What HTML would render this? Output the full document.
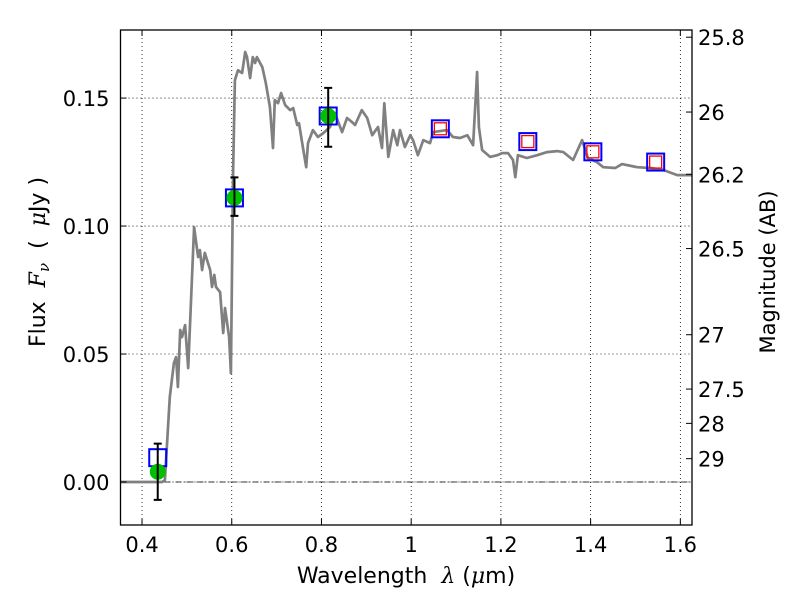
<!DOCTYPE html>
<html><head><meta charset="utf-8"><style>
body{margin:0;background:#fff;}
svg text{font-family:"DejaVu Sans","Liberation Sans",sans-serif;}
</style></head><body>
<svg id="chart" width="800" height="600" viewBox="0 0 800 600" xmlns="http://www.w3.org/2000/svg">
<g id="grid"></g>
<g id="marks"></g>
<rect x="120.5" y="30" width="571.5" height="495" fill="none" stroke="#000" stroke-width="1.3"/>
<g id="axes"></g>
<text x="406" y="583" font-size="22" text-anchor="middle" xml:space="preserve">Wavelength  <tspan font-style="italic" font-family="DejaVu Serif,serif">λ</tspan> (<tspan font-style="italic" font-family="DejaVu Serif,serif">μ</tspan>m)</text>
<text transform="translate(45,262) rotate(-90)" font-size="22" text-anchor="middle" xml:space="preserve">Flux  <tspan font-style="italic" font-family="DejaVu Serif,serif">F<tspan font-size="15" dy="4">ν</tspan></tspan><tspan dy="-4">  (  </tspan><tspan font-style="italic" font-family="DejaVu Serif,serif">μ</tspan>Jy )</text>
<text transform="translate(775,272) rotate(-90)" font-size="21" text-anchor="middle">Magnitude (AB)</text>
</svg>
<script>
const specWave=[0.352,0.445,0.451,0.462,0.471,0.476,0.480,0.485,0.489,0.496,0.503,0.516,0.525,0.529,0.534,0.540,0.552,0.556,0.561,0.565,0.574,0.581,0.585,0.594,0.598,0.603,0.607,0.614,0.623,0.630,0.634,0.641,0.647,0.652,0.656,0.668,0.676,0.685,0.692,0.696,0.703,0.710,0.719,0.730,0.737,0.746,0.750,0.757,0.766,0.770,0.781,0.792,0.804,0.819,0.830,0.846,0.857,0.868,0.875,0.890,0.902,0.913,0.926,0.935,0.940,0.949,0.960,0.969,0.975,0.986,0.998,1.004,1.015,1.027,1.042,1.049,1.080,1.093,1.109,1.125,1.138,1.147,1.151,1.158,1.176,1.192,1.203,1.216,1.227,1.232,1.238,1.258,1.281,1.303,1.325,1.339,1.361,1.381,1.394,1.414,1.428,1.455,1.470,1.504,1.533,1.562,1.593,1.626];
const specFlux=[0,0,0.0008,0.0332,0.0465,0.0488,0.0371,0.0594,0.0566,0.0613,0.0445,0.0996,0.0879,0.0906,0.0828,0.0895,0.0828,0.0762,0.0809,0.0762,0.0742,0.0582,0.0680,0.0566,0.0426,0.1207,0.1570,0.1609,0.1598,0.1680,0.1660,0.1578,0.1660,0.1637,0.1660,0.1621,0.1559,0.1465,0.1305,0.1492,0.1480,0.1520,0.1473,0.1453,0.1461,0.1395,0.1402,0.1324,0.1230,0.1324,0.1375,0.1348,0.1363,0.1387,0.1441,0.1367,0.1422,0.1406,0.1395,0.1453,0.1422,0.1355,0.1387,0.1305,0.1480,0.1270,0.1375,0.1316,0.1375,0.1309,0.1355,0.1336,0.1277,0.1336,0.1324,0.1367,0.1375,0.1348,0.1344,0.1355,0.1316,0.1602,0.1387,0.1297,0.1270,0.1277,0.1285,0.1285,0.1258,0.1191,0.1277,0.1266,0.1277,0.1289,0.1293,0.1289,0.1258,0.1336,0.1266,0.1250,0.1230,0.1227,0.1242,0.1230,0.1227,0.1219,0.1199,0.1199];
const obsWave=[0.435,0.606,0.815];
const obsFlux=[0.004,0.111,0.143];
const obsErrLo=[-0.007,0.104,0.131];
const obsErrHi=[0.015,0.119,0.154];
const modelWave=[0.435,0.606,0.815,1.065,1.26,1.405,1.545];
const modelFlux=[0.0095,0.111,0.143,0.138,0.133,0.129,0.125];
const predWave=[1.065,1.26,1.405,1.545];
const predFlux=[0.138,0.133,0.129,0.125];
const xTicks=[0.4,0.6,0.8,1.0,1.2,1.4,1.6];
const xTickLabels=["0.4","0.6","0.8","1","1.2","1.4","1.6"];
const yTicks=[0,0.05,0.10,0.15];
const yTickLabels=["0.00","0.05","0.10","0.15"];
const magTicks=[25.8,26,26.2,26.5,27,27.5,28,29];
const magTickLabels=["25.8","26","26.2","26.5","27","27.5","28","29"];

const L=120.5,R=692,T=30,B=525,X0=0.352,X1=1.626,Y0=-0.0168,Y1=0.1766;
const sx=v=>L+(v-X0)/(X1-X0)*(R-L);
const sy=v=>B-(v-Y0)/(Y1-Y0)*(B-T);
const NS="http://www.w3.org/2000/svg";
function mk(tag,attrs,parent){const e=document.createElementNS(NS,tag);for(const k in attrs)e.setAttribute(k,attrs[k]);parent.appendChild(e);return e;}
const grid=document.getElementById('grid'),marks=document.getElementById('marks'),axes=document.getElementById('axes');

xTicks.forEach((t,i)=>{
  const x=sx(t);
  const g=mk('line',{x1:x,x2:x,y1:T,y2:B,stroke:'#000','stroke-width':0.8,'stroke-dasharray':'1,3'},grid);
  
  
  const tk=mk('path',{d:`M${x},${B}v-6M${x},${T}v6`,stroke:'#000'},axes);
  
  
  const tx=mk('text',{x:x,y:B+27,'font-size':21,'text-anchor':'middle'},axes);
  tx.textContent=xTickLabels[i];
  
  
});
yTicks.forEach((t,i)=>{
  const y=sy(t);
  const g=mk('line',{x1:L,x2:R,y1:y,y2:y,stroke:'#000','stroke-width':0.8,'stroke-dasharray':'1,3'},grid);
  
  
  const tk=mk('line',{x1:L,x2:L+6,y1:y,y2:y,stroke:'#000'},axes);
  
  
  const tx=mk('text',{x:L-11,y:y+8,'font-size':21,'text-anchor':'end'},axes);
  tx.textContent=yTickLabels[i];
  
  
});
const zl=mk('line',{x1:L,x2:R,y1:sy(0),y2:sy(0),stroke:'#000','stroke-width':0.7,'stroke-dasharray':'6,2,1,2'},grid);


magTicks.forEach((m,i)=>{
  const y=sy(Math.pow(10,(23.9-m)/2.5));
  const tk=mk('line',{x1:R,x2:R-6,y1:y,y2:y,stroke:'#000'},axes);
  
  
  const tx=mk('text',{x:R+6,y:y+8,'font-size':21},axes);
  tx.textContent=magTickLabels[i];
  
  
});
const pts=specWave.map((w,i)=>sx(w).toFixed(1)+','+sy(specFlux[i]).toFixed(1)).join(' ');
const sp=mk('polyline',{points:pts,fill:'none',stroke:'#808080','stroke-width':2.7,'stroke-linejoin':'round'},marks);


modelWave.forEach((w,i)=>{
  const x=sx(w),y=sy(modelFlux[i]);
  const r=mk('rect',{x:x-8.5,y:y-8.5,width:17,height:17,fill:'none',stroke:'#0000ff','stroke-width':2},marks);
  
  
});
predWave.forEach((w,i)=>{
  const x=sx(w),y=sy(predFlux[i]);
  const r=mk('rect',{x:x-6,y:y-6,width:12,height:12,fill:'none',stroke:'#ff0000','stroke-width':1.3},marks);
  
  
});
obsWave.forEach((w,i)=>{
  const x=sx(w);
  const c=mk('circle',{cx:x,cy:sy(obsFlux[i]),r:8,fill:'#00c000'},marks);
  
  
  const e=mk('path',{d:`M${x},${sy(obsErrLo[i])}V${sy(obsErrHi[i])}M${x-4},${sy(obsErrLo[i])}h8M${x-4},${sy(obsErrHi[i])}h8`,stroke:'#000','stroke-width':2,fill:'none'},marks);
  
  
});
</script>
</body></html>
